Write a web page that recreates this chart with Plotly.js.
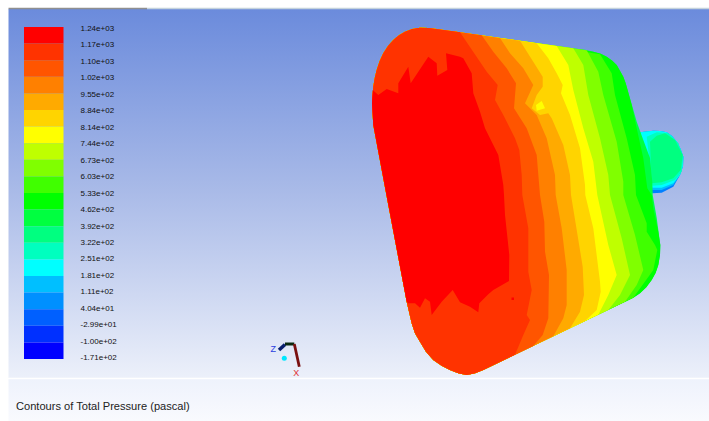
<!DOCTYPE html>
<html>
<head>
<meta charset="utf-8">
<script src="https://cdn.plot.ly/plotly-3.0.1.min.js"></script>
<style>html,body{margin:0;padding:0;background:#fff}#chart{width:709px;height:421px}</style>
</head>
<body>
<div id="chart"></div>
<script>
// Colour legend, top to bottom
const legendLabels = ["1.24e+03","1.17e+03","1.10e+03","1.02e+03","9.55e+02","8.84e+02","8.14e+02","7.44e+02","6.73e+02","6.03e+02","5.33e+02","4.62e+02","3.92e+02","3.22e+02","2.51e+02","1.81e+02","1.11e+02","4.04e+01","-2.99e+01","-1.00e+02","-1.71e+02"];
const legendColors = ["#ff0000","#ff3300","#ff5500","#ff8000","#ffaa00","#ffd400","#ffff00","#bfff00","#80ff00","#40ff00","#00ff00","#00ff40","#00ff80","#00ffbf","#00ffff","#00bfff","#0090ff","#0060ff","#0030ff","#0000ff"];
const titleText = "Contours of Total Pressure (pascal)";

// Body outline: left part runs from the lower edge round to the upper edge
const leftOutline = [[483.3,370],[475,373.3],[466.7,375],[458.3,373.3],[450,370],[441.7,365.7],[433.3,360],[426,351.7],[420,341.7],[415,333.3],[411.7,323.3],[409,311.7],[406.7,301.7],[388.3,205],[380,161.7],[373.3,125],[372,103.3],[372.3,95],[373.3,86.7],[374.7,78.3],[376.7,70],[379.7,61],[383.3,53.3],[388,46],[393.3,40],[399,35.3],[405,31.7],[412.3,29],[420,27.7],[428.3,28],[436.7,29]];
const rightOutline = [[460,32.3],[576.7,48.7],[585,49.7],[593.3,51.7],[600.7,53.7],[606.7,56.7],[612.3,60.7],[616.7,65],[620.3,70.7],[623.3,76.7],[625.7,83.3],[627.7,90],[631.7,103.3],[636.7,121.7],[643.3,140],[650,158],[652.3,181.7],[652.7,195],[656.7,218],[660.3,245],[660,255],[658.3,265],[655.7,272.7],[651.7,280],[646.3,287.3],[640,293.3],[633.3,297.7],[626.7,301]];

// Contour boundaries, upper edge to lower edge, right to left
const contour00ff00 = [[593.3,51.7],[600.7,53.7],[606.7,56.7],[612.3,60.7],[616.7,65],[620.3,70.7],[623.3,76.7],[625.7,83.3],[627.7,90],[631.7,105],[636.7,128.3],[643.3,158.3],[647.3,188.3],[651.7,195],[653.3,208.3],[658.3,231.7],[660.3,245],[660,255],[658.3,265],[655.7,272.7],[651.7,280],[646.3,287.3],[640,293.3],[633.3,297.7],[626.7,301]];
const contour40ff00 = [[600,54.3],[611.7,73.3],[615,95],[626.7,138.3],[635,175],[636,195],[646.7,223.3],[646.7,231.7],[655,245],[657.3,250],[653.3,270],[633.3,297.7]];
const contour80ff00 = [[586.7,50.3],[598.3,71.7],[603.3,95],[616.7,141.7],[623.3,181.7],[623.3,195],[635,235],[643.3,270],[636.7,285],[625,301.8]];
const contourBfff00 = [[573.3,48.2],[583.3,65],[588.3,95],[600,138.3],[608.3,175],[610,195],[621.7,238.3],[630,275],[620,295],[608.3,309.9]];
const contourFfff00 = [[556.7,45.9],[568.3,65],[573.3,90],[583.3,128.3],[593.3,161.7],[597.3,195],[608.3,245],[616.7,275],[608.3,295],[598.3,314.7]];
const contourFfd400 = [[536.7,43.2],[548.3,58.3],[556.7,73.3],[562.7,85],[561,93.3],[570,115],[580,148.3],[585,185],[585.3,195],[593.3,228.3],[600,281.7],[600.7,291.7],[596.7,310],[585,321]];
const contourFfaa00 = [[520,40.8],[530,56.7],[542.7,76.7],[542.7,86.7],[536.7,95],[531.7,108.3],[540,115],[548.3,113.3],[551.7,118.3],[563.3,145],[570,175],[571,195],[576.7,228.3],[582.7,266.7],[584,295],[580,311.7],[570,328.3]];
const contourFf8000 = [[500,38],[510,53.3],[523.3,68.3],[533.3,85],[525,103.3],[536.7,115],[546.7,138.3],[555,175],[555.7,195],[561.7,228.3],[566.7,270],[566.7,305],[563.3,318.3],[553.3,336.3]];
const contourFf5500 = [[481.7,35.3],[493.3,51.7],[506.7,68.3],[516,83.3],[514,108.3],[526.7,128.3],[536.7,155],[539.3,181.7],[540,195],[544.3,221.7],[545,251.7],[549,275],[548.3,318.3],[542.7,335],[533.3,346]];
const contourFf3300 = [[460,32.3],[473.3,51.7],[486.7,71.7],[497.7,85],[495,100],[503.3,115],[515,138.3],[519.3,150],[521.7,175],[522.3,195],[528.3,228.3],[528.3,271.7],[531.7,290],[526.7,315],[530,320],[523.3,335],[515,354.7]];
const contourRed = [[372.7,90],[378.3,95],[386.7,89],[398.3,93.3],[398.3,83.3],[408.3,66.7],[410.7,83.3],[428.3,56.7],[436.7,63.3],[437.3,75.7],[447.3,70],[446,53.3],[460,56.7],[463.3,58.3],[471.7,73.3],[473.3,93.3],[480,111.7],[485,128.3],[498.3,155],[503.3,185],[504,195],[505,215],[509.3,255],[509,281],[493.3,290],[488.3,294.3],[479.3,303.3],[478.3,312.3],[470,306.7],[460,302.3],[452.7,290],[441.7,301.7],[431.7,315],[430,301.7],[425,298.3],[420,307.7],[415,303.3],[408.3,303.3],[406.7,301.7],[388.3,205],[380,161.7],[373.3,125],[372,103.3]];
const islandYellow = [[541.7,101],[545,108.3],[536.7,110.7],[536,105]];
const islandRed = [[511.5,297.5],[514,297.5],[514,300],[511.5,300]];

// Outlet pipe, outermost contour first
const pipeTop = [[640,132.3],[653.3,130.7],[660,131],[666.7,132.3],[672,136],[676.7,141.7],[680.5,149],[683.3,156.7],[683,166],[680,175]];
const pipe0080ff = [[673.3,186.7],[661.7,192.7],[652.3,193.3]];
const pipe00bfff = [[673.3,185],[661.7,190],[652.3,190]];
const pipe00ffff = [[673.3,183.3],[661.7,187.7],[652.3,187.7]];
const pipe00ffbf = [[646.7,136.7],[656.7,132.3],[668.3,133.3],[678.3,143.3],[683.3,156.7],[681.7,171.7],[675,180],[661.7,185],[652.3,185.7]];
const pipe00ff80 = [[650,141.7],[656.7,135.7],[665,133.3],[675,140],[682.7,155],[680.7,170],[673.3,178.3],[661.7,182.3],[651.7,183.3]];

const traces = [];
function poly(points, color) {
  const closed = points.concat([points[0]]);
  traces.push({type:"scatter", mode:"lines", x:closed.map(p=>p[0]), y:closed.map(p=>p[1]),
    fill:"toself", fillcolor:color, line:{width:0}, hoverinfo:"skip", showlegend:false});
}
function gradient(x0, x1, y0, y1, scale) {
  traces.push({type:"scatter", mode:"lines", x:[x0,x1,x1,x0,x0], y:[y0,y0,y1,y1,y0],
    fill:"toself", fillgradient:{type:"vertical", colorscale:scale}, line:{width:0}, hoverinfo:"skip", showlegend:false});
}
function rule(xs, ys, color, width) {
  traces.push({type:"scatter", mode:"lines", x:xs, y:ys, line:{color:color, width:width}, hoverinfo:"skip", showlegend:false});
}
function label(xs, ys, texts, pos, size, color) {
  traces.push({type:"scatter", mode:"text", x:xs, y:ys, text:texts, textposition:pos,
    textfont:{family:"Liberation Sans, Arial, sans-serif", size:size, color:color}, hoverinfo:"skip", showlegend:false});
}

// Viewport background
gradient(8.5, 709, 9, 378, [[0,"#ecf0fa"],[0.5,"#aabbe8"],[1,"#6b8bdc"]]);
gradient(8.5, 709, 379, 421, [[0,"#f9fafe"],[1,"#eef2fc"]]);
rule([8.5,709],[378.5,378.5],"#ffffff",1.5);
rule([8.5,147],[8.5,8.5],"#8f8f8f",1.5);
rule([147,709],[8.5,8.5],"#c4d2dc",1.5);

// Legend
const legendTop = 27, legendBottom = 359, legendLeft = 24, legendRight = 63.5;
const bandH = (legendBottom - legendTop) / legendColors.length;
legendColors.forEach((c,i) => poly([[legendLeft,legendTop+i*bandH],[legendRight,legendTop+i*bandH],[legendRight,legendTop+(i+1)*bandH],[legendLeft,legendTop+(i+1)*bandH]], c));
label(legendLabels.map(()=>80.5), legendLabels.map((_,i)=>29+i*329.2/20), legendLabels, "middle right", 8, "#111111");
label([16], [407], [titleText], "middle right", 11.1, "#222222");

// Pipe
poly(pipeTop.concat(pipe0080ff), "#0080ff");
poly(pipeTop.concat(pipe00bfff), "#00bfff");
poly(pipeTop.concat(pipe00ffff), "#00ffff");
poly(pipe00ffbf, "#00ffbf");
poly(pipe00ff80, "#00ff80");

// Body
poly(leftOutline.concat(rightOutline), "#00ff40");
[[contour00ff00,"#00ff00"],[contour40ff00,"#40ff00"],[contour80ff00,"#80ff00"],[contourBfff00,"#bfff00"],[contourFfff00,"#ffff00"],[contourFfd400,"#ffd400"],[contourFfaa00,"#ffaa00"],[contourFf8000,"#ff8000"],[contourFf5500,"#ff5500"],[contourFf3300,"#ff3300"]]
  .forEach(b => poly(b[0].concat(leftOutline), b[1]));
poly(contourRed, "#ff0000");
poly(islandYellow, "#ffff00");
poly(islandRed, "#ff0000");

// Axis triad
rule([279,285],[350,344.5],"#0a1f6e",3.5);
rule([285,294.3],[344,344],"#0a2a10",3);
rule([294.3,299.3],[344,366.7],"#7a1010",2.8);
traces.push({type:"scatter", mode:"markers", x:[284.3], y:[358.3], marker:{color:"#00e8ff", size:5}, hoverinfo:"skip", showlegend:false});
label([273.3],[350],["Z"],"middle center",9,"#2a40e0");
label([296.3],[373.3],["X"],"middle center",9,"#e03030");

Plotly.newPlot("chart", traces, {
  width:709, height:421, margin:{l:0,r:0,t:0,b:0,pad:0},
  paper_bgcolor:"#ffffff", plot_bgcolor:"#ffffff", showlegend:false,
  xaxis:{range:[0,709], visible:false, fixedrange:true},
  yaxis:{range:[421,0], visible:false, fixedrange:true}
}, {staticPlot:true, displayModeBar:false});
</script>
</body>
</html>
